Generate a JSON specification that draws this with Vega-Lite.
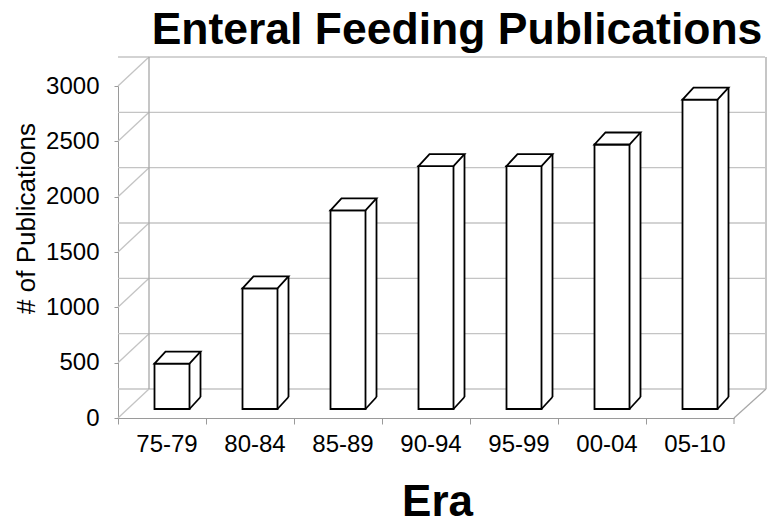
{
  "$schema": "https://vega.github.io/schema/vega-lite/v6.json",
  "width": 616,
  "height": 332,
  "autosize": {"type": "none"},
  "padding": {"left": 118, "top": 86, "right": 39, "bottom": 113},
  "background": "white",
  "title": {
    "text": "Enteral Feeding Publications",
    "font": "Liberation Sans",
    "fontSize": 44.5,
    "fontWeight": "bold",
    "color": "#000000",
    "anchor": "middle",
    "frame": "group",
    "dx": 31,
    "dy": 44,
    "baseline": "alphabetic",
    "offset": 12
  },
  "config": {
    "view": {"stroke": null},
    "font": "Liberation Sans",
    "axis": {
      "grid": false,
      "domainColor": "#9a9a9a",
      "tickColor": "#9a9a9a",
      "labelFont": "Liberation Sans",
      "labelColor": "#000000",
      "titleFont": "Liberation Sans",
      "titleColor": "#000000"
    },
    "axisX": {
      "labelFontSize": 24,
      "labelAngle": 0,
      "tickSize": 6,
      "labelPadding": 8,
      "labelOffset": 5,
      "bandPosition": 0,
      "titleFontSize": 44,
      "titleFontWeight": "bold",
      "titlePadding": 24,
      "titleX": 319
    },
    "axisY": {
      "labelFontSize": 24,
      "tickSize": 4,
      "labelPadding": 15,
      "titleFontSize": 26,
      "titleFontWeight": "normal",
      "titlePadding": 6,
      "titleY": 132
    }
  },
  "datasets": {
    "pubs": [
      {"era": "75-79", "n": 410},
      {"era": "80-84", "n": 1090},
      {"era": "85-89", "n": 1795},
      {"era": "90-94", "n": 2195},
      {"era": "95-99", "n": 2195},
      {"era": "00-04", "n": 2390},
      {"era": "05-10", "n": 2795}
    ],
    "ticks": [
      {"v": 0}, {"v": 500}, {"v": 1000}, {"v": 1500}, {"v": 2000}, {"v": 2500}, {"v": 3000}
    ],
    "frame": [{"part": "wall"}]
  },
  "layer": [
    {
      "data": {"name": "ticks"},
      "mark": {"type": "rule", "color": "#c4c4c4", "strokeWidth": 1.3, "xOffset": 31, "x2Offset": 32, "yOffset": -29},
      "encoding": {
        "y": {
          "field": "v", "type": "quantitative", "title": "# of Publications",
          "scale": {"domain": [0, 3000], "nice": false, "zero": true},
          "axis": {"values": [0, 500, 1000, 1500, 2000, 2500, 3000], "format": "d"}
        }
      }
    },
    {
      "data": {"name": "ticks"},
      "mark": {"type": "rule", "color": "#c4c4c4", "strokeWidth": 1.3, "x2Offset": 31, "y2Offset": -29},
      "encoding": {
        "x": {"datum": "75-79", "type": "nominal", "bandPosition": 0, "title": "Era",
              "scale": {"domain": ["75-79", "80-84", "85-89", "90-94", "95-99", "00-04", "05-10"], "paddingInner": 0, "paddingOuter": 0}},
        "x2": {"datum": "75-79", "bandPosition": 0},
        "y": {"field": "v", "type": "quantitative", "title": "# of Publications"},
        "y2": {"field": "v"}
      }
    },
    {
      "data": {"name": "frame"},
      "mark": {"type": "rule", "color": "#a8a8a8", "strokeWidth": 1.3, "xOffset": 31, "yOffset": -29, "y2Offset": -29},
      "encoding": {
        "x": {"datum": "75-79", "type": "nominal", "bandPosition": 0, "title": "Era"},
        "y": {"datum": 0, "type": "quantitative", "title": "# of Publications"},
        "y2": {"datum": 3000}
      }
    },
    {
      "data": {"name": "frame"},
      "mark": {"type": "rule", "color": "#a8a8a8", "strokeWidth": 1.3, "xOffset": 32, "yOffset": -29, "y2Offset": -29},
      "encoding": {
        "x": {"datum": "05-10", "type": "nominal", "bandPosition": 1, "title": "Era"},
        "y": {"datum": 0, "type": "quantitative", "title": "# of Publications"},
        "y2": {"datum": 3000}
      }
    },
    {
      "data": {"name": "frame"},
      "mark": {"type": "rule", "color": "#a8a8a8", "strokeWidth": 1.3, "x2Offset": 32, "y2Offset": -29},
      "encoding": {
        "x": {"datum": "05-10", "type": "nominal", "bandPosition": 1, "title": "Era"},
        "x2": {"datum": "05-10", "bandPosition": 1},
        "y": {"datum": 0, "type": "quantitative", "title": "# of Publications"},
        "y2": {"datum": 0}
      }
    },
    {
      "data": {"name": "frame"},
      "mark": {"type": "rule", "color": "#9a9a9a", "strokeWidth": 1, "y2Offset": 6},
      "encoding": {
        "x": {"datum": "05-10", "type": "nominal", "bandPosition": 1, "title": "Era"},
        "y": {"datum": 0, "type": "quantitative", "title": "# of Publications"},
        "y2": {"datum": 0}
      }
    },
    {
      "data": {"name": "pubs"},
      "mark": {"type": "bar", "fill": "white", "width": 11, "xOffset": 33, "yOffset": -21, "y2Offset": -9},
      "encoding": {
        "x": {"field": "era", "type": "nominal", "title": "Era"},
        "y": {"field": "n", "type": "quantitative", "title": "# of Publications"}
      }
    },
    {
      "data": {"name": "pubs"},
      "mark": {"type": "rule", "color": "#000000", "strokeWidth": 1.8, "xOffset": 38.5, "yOffset": -21, "y2Offset": -21},
      "encoding": {
        "x": {"field": "era", "type": "nominal", "title": "Era"},
        "y": {"field": "n", "type": "quantitative", "title": "# of Publications"},
        "y2": {"datum": 0}
      }
    },
    {
      "data": {"name": "pubs"},
      "mark": {"type": "point", "shape": "M-0.917,1L0.917,-1", "size": 144, "filled": false, "stroke": "#000000", "strokeWidth": 1.8, "opacity": 1, "xOffset": 33, "yOffset": -15},
      "encoding": {
        "x": {"field": "era", "type": "nominal", "title": "Era"},
        "y": {"datum": 0, "type": "quantitative", "title": "# of Publications"}
      }
    },
    {
      "data": {"name": "pubs"},
      "mark": {"type": "bar", "fill": "white", "stroke": "#000000", "strokeWidth": 1.8, "width": 35, "xOffset": 10, "yOffset": -9, "y2Offset": -9},
      "encoding": {
        "x": {"field": "era", "type": "nominal", "title": "Era"},
        "y": {"field": "n", "type": "quantitative", "title": "# of Publications"}
      }
    },
    {
      "data": {"name": "pubs"},
      "mark": {"type": "point", "shape": "M-1,0.261L0.522,0.261L1,-0.261L-0.522,-0.261Z", "size": 2116, "filled": true, "fill": "white", "stroke": "#000000", "strokeWidth": 1.8, "opacity": 1, "xOffset": 15.5, "yOffset": -15},
      "encoding": {
        "x": {"field": "era", "type": "nominal", "title": "Era"},
        "y": {"field": "n", "type": "quantitative", "title": "# of Publications"}
      }
    }
  ]
}
